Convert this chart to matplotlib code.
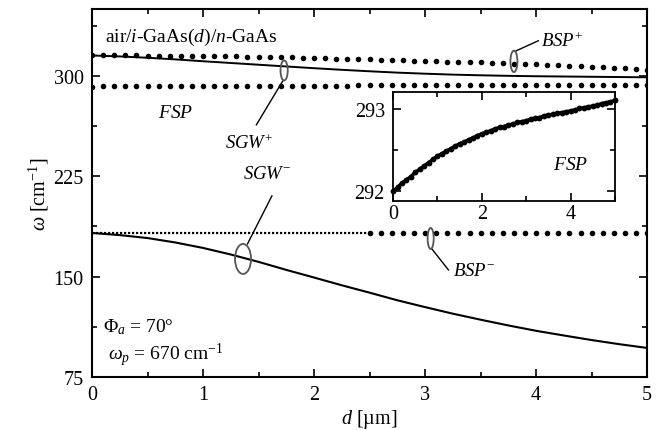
import matplotlib
matplotlib.use("Agg")
import matplotlib.pyplot as plt
from matplotlib.patches import Ellipse
from matplotlib.ticker import MultipleLocator

plt.rcParams.update({
    "font.family": "Liberation Serif", "font.size": 14,
    "mathtext.fontset": "custom", "mathtext.rm": "Liberation Serif",
    "mathtext.it": "Liberation Serif:italic", "mathtext.bf": "Liberation Serif:bold",
    "xtick.direction": "in", "ytick.direction": "in",
    "xtick.top": True, "ytick.right": True,
    "xtick.major.size": 5.5, "ytick.major.size": 5.5,
    "xtick.minor.size": 3.5, "ytick.minor.size": 3.5,
    "xtick.major.width": 1.2, "ytick.major.width": 1.2,
    "xtick.minor.width": 1.2, "ytick.minor.width": 1.2,
})

# ---- data
d_dots = [i / 10 for i in range(51)]          # dotted series, 0.1 um step
bsp_plus = [315.2, 315.2, 315.2, 315.2, 315.2, 315.1, 315.1, 315.0, 315.0, 314.9, 314.8,
            314.7, 314.6, 314.5, 314.4, 314.3, 314.2, 314.0, 313.8, 313.6, 313.4,
            313.1, 312.9, 312.7, 312.5, 312.3, 312.1, 311.9, 311.7, 311.4, 311.2,
            311.0, 310.7, 310.5, 310.2, 310.0, 309.7, 309.5, 309.2, 309.0, 308.7,
            308.4, 308.0, 307.7, 307.3, 306.9, 306.5, 306.1, 305.6, 305.2, 304.7]
fsp = [292.00, 292.05, 292.10, 292.14, 292.18, 292.23, 292.27, 292.31, 292.35, 292.39, 292.43,
       292.46, 292.49, 292.52, 292.55, 292.58, 292.60, 292.63, 292.65, 292.68, 292.70,
       292.72, 292.74, 292.76, 292.78, 292.79, 292.81, 292.82, 292.84, 292.85, 292.86,
       292.88, 292.89, 292.90, 292.92, 292.93, 292.94, 292.95, 292.96, 292.97, 292.98,
       292.99, 293.01, 293.02, 293.03, 293.04, 293.05, 293.07, 293.08, 293.09, 293.11]
d_bsp_minus = [2.5 + i / 10 for i in range(26)]
bsp_minus = [182.6] * 26
d_bsp_minus_thin = [0.0, 2.5]
bsp_minus_thin = [182.6, 182.6]

d_line = [i / 4 for i in range(21)]           # solid curves, 0.25 um step
sgw_plus = [315.2, 314.5, 313.5, 312.3, 310.9, 309.6, 308.3, 307.0, 305.7, 304.5, 303.4,
            302.4, 301.6, 300.9, 300.4, 300.0, 299.7, 299.5, 299.3, 299.1, 298.9]
sgw_minus = [182.6, 181.0, 178.8, 175.5, 171.4, 166.5, 161.0, 155.0, 149.3, 143.5, 138.0,
             132.3, 127.2, 122.3, 117.8, 113.5, 109.5, 106.0, 102.6, 99.5, 96.7]

fig = plt.figure(figsize=(6.72, 4.31), dpi=100)
ax = fig.add_axes([0.137, 0.123, 0.826, 0.854])
for s in ax.spines.values():
    s.set_linewidth(1.5)

DOT = dict(ls="none", marker="o", ms=4.0, color="black", mec="none")
ax.plot(d_dots, bsp_plus, **DOT)
ax.plot(d_dots, fsp, **DOT)
ax.plot(d_bsp_minus, bsp_minus, **DOT)
ax.plot(d_bsp_minus_thin, bsp_minus_thin, color="black", lw=1.6, ls=(0, (1, 0.8)))
ax.plot(d_line, sgw_plus, color="black", lw=1.4)
ax.plot(d_line, sgw_minus, color="black", lw=1.5)

ax.set_xlim(0, 5); ax.set_ylim(75, 350)
ax.xaxis.set_major_locator(MultipleLocator(1)); ax.xaxis.set_minor_locator(MultipleLocator(0.5))
ax.yaxis.set_major_locator(MultipleLocator(75)); ax.yaxis.set_minor_locator(MultipleLocator(37.5))
ax.tick_params(axis="both", which="both", pad=6, labelsize=14.5)
ax.set_xlabel(r"$d$ [µm]", fontsize=14.5, labelpad=2)
ax.set_ylabel(r"$\omega$ [cm$^{-1}$]", fontsize=14.5, labelpad=2)

# ---- annotations: ellipses + leader lines
GRAY = "#555555"
for (cx, cy, w, h) in [(1.73, 304.0, 0.065, 15), (1.36, 163.2, 0.144, 22.4),
                       (3.80, 310.8, 0.063, 16), (3.05, 178.5, 0.055, 15.7)]:
    ax.add_patch(Ellipse((cx, cy), w, h, fill=False, ec=GRAY, lw=1.3, zorder=5))
for (x1, y1, x2, y2) in [(1.72, 296.5, 1.48, 263.4), (1.40, 174.4, 1.62, 210.3),
                         (3.82, 318.7, 4.02, 326.2), (3.06, 170.8, 3.21, 155.0)]:
    ax.plot([x1, x2], [y1, y2], color="black", lw=1.0)

ax.text(0.117, 329.2, r"air/$i$-GaAs($d$)/$n$-GaAs", fontsize=14, va="center")
ax.text(0.75, 272.7, r"$FSP$", fontsize=14, ha="center", va="center")
ax.text(1.415, 250.3, r"$SGW^{+}$", fontsize=13.5, ha="center", va="center")
ax.text(1.58, 226.7, r"$SGW^{-}$", fontsize=13.5, ha="center", va="center")
ax.text(4.04, 326.5, r"$BSP^{+}$", fontsize=13.5, ha="left", va="center")
ax.text(3.25, 154.2, r"$BSP^{-}$", fontsize=13.5, ha="left", va="center")
ax.text(0.10, 113, r"$\Phi_{a}$ = 70°", fontsize=14, va="center")
ax.text(0.145, 92.2, r"$\omega_{p}$ = 670 cm$^{-1}$", fontsize=14, va="center")

# ---- inset: FSP zoom
ins = fig.add_axes([0.585, 0.531, 0.330, 0.253])
for s in ins.spines.values():
    s.set_linewidth(1.3)
ins.plot(d_dots, fsp, color="black", lw=2.5)
ins.plot(d_dots, fsp, ls="none", marker="o", ms=4.2, color="black", mec="none", clip_on=False)
ins.set_xlim(0, 5); ins.set_ylim(291.88, 293.21)
ins.xaxis.set_major_locator(MultipleLocator(2)); ins.xaxis.set_minor_locator(MultipleLocator(1))
ins.yaxis.set_major_locator(MultipleLocator(1)); ins.yaxis.set_minor_locator(MultipleLocator(0.5))
ins.tick_params(axis="y", which="both", pad=6, labelsize=14.5)
ins.tick_params(axis="x", which="both", pad=2, labelsize=14.5)
ins.text(4.01, 292.33, r"$FSP$", fontsize=14, ha="center", va="center")

fig.savefig("out.png", dpi=100)
